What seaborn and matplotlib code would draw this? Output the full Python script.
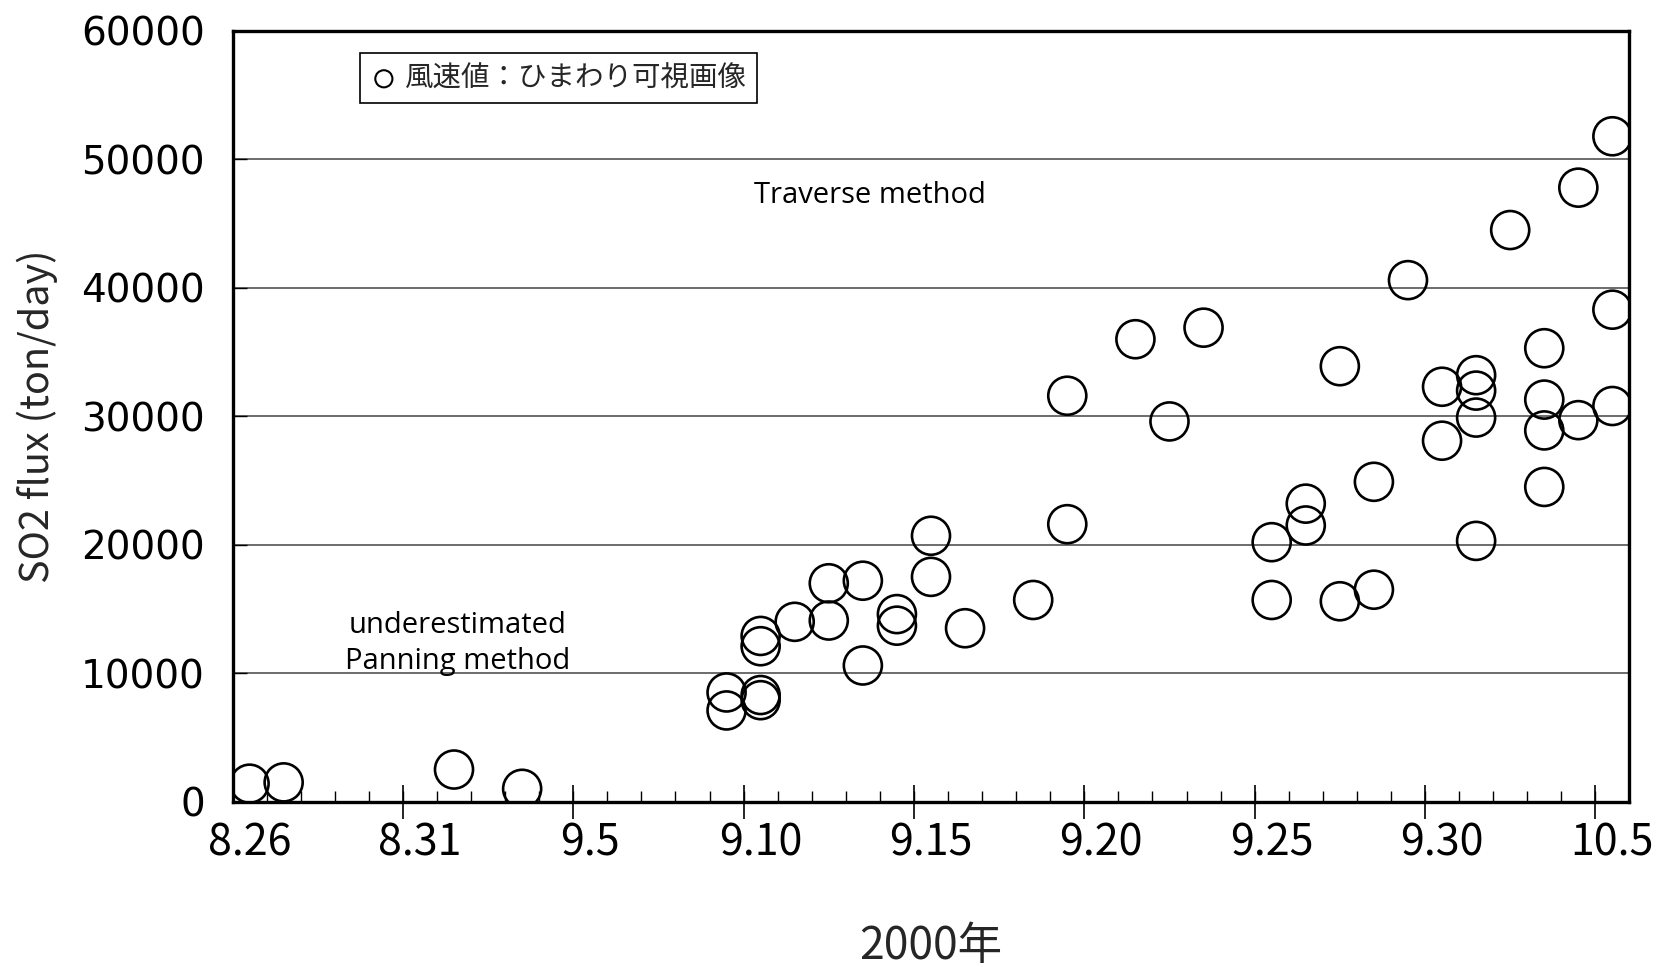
"""SO2 flux time series (2000), hollow circles, Excel-like category axis."""
import numpy as np
import pandas as pd
import matplotlib
matplotlib.use("Agg")
import matplotlib.pyplot as plt
import seaborn as sns

# category axis: every day from 8.26 to 10.5
date_axis = [f"{d.month}.{d.day}" for d in pd.date_range("2000-08-26", "2000-10-05")]
label_every = 5

obs_date = [
    "8.26", "8.27", "9.1", "9.3",
    "9.9", "9.9",
    "9.10", "9.10", "9.10", "9.10",
    "9.11", "9.12", "9.12", "9.13", "9.13", "9.14", "9.14",
    "9.15", "9.15", "9.16", "9.18", "9.19", "9.19",
    "9.21", "9.22", "9.23",
    "9.25", "9.25", "9.26", "9.26", "9.27", "9.27", "9.28", "9.28",
    "9.29", "9.30", "9.30",
    "10.1", "10.1", "10.1", "10.1",
    "10.2",
    "10.3", "10.3", "10.3", "10.3",
    "10.4", "10.4",
    "10.5", "10.5", "10.5",
]
so2_flux = [
    1400, 1500, 2500, 1000,
    7100, 8500,
    7900, 8300, 12100, 12900,
    14000, 17000, 14100, 17200, 10600, 14600, 13700,
    20700, 17500, 13500, 15700, 31600, 21600,
    36000, 29600, 36900,
    20200, 15700, 23200, 21500, 33900, 15600, 24900, 16500,
    40600, 32300, 28100,
    33200, 32000, 29900, 20300,
    44500,
    35300, 31300, 28900, 24500,
    47800, 29700,
    51800, 38300, 30800,
]
y_ticks = [0, 10000, 20000, 30000, 40000, 50000, 60000]

legend_label = "風速値：ひまわり可視画像"
ylabel = "SO2 flux (ton/day)"
xlabel = "2000年"

df = pd.DataFrame({"date": obs_date, "flux": so2_flux})
df["pos"] = df["date"].map({d: i for i, d in enumerate(date_axis)})

sns.set_theme(style="white")
plt.rcParams["font.family"] = ["DejaVu Sans", "Noto Sans CJK JP"]
NARROW = ["Noto Sans CJK JP", "DejaVu Sans"]

fig, ax = plt.subplots(figsize=(16.61, 9.67), dpi=100)
fig.subplots_adjust(left=0.140, right=0.981, top=0.968, bottom=0.171)

sns.scatterplot(
    data=df, x="pos", y="flux", ax=ax, marker="o", s=750,
    facecolor="none", edgecolor="black", linewidth=1.9, label=legend_label,
    zorder=3,
)

ax.set_xlim(-0.5, len(date_axis) - 0.5)
ax.set_ylim(y_ticks[0], y_ticks[-1])

# grid lines only horizontal
ax.set_yticks(y_ticks)
ax.yaxis.grid(True, color="#444444", linewidth=1.1)
ax.xaxis.grid(False)

# labels on the categories, tick marks between them
lab_pos = list(range(0, len(date_axis), label_every))
ax.set_xticks(lab_pos)
ax.set_xticklabels([date_axis[i] for i in lab_pos], family=NARROW, fontsize=31)
ax.tick_params(axis="x", which="major", length=0, pad=14, colors="black")
ax.set_xticks(np.arange(-0.5, len(date_axis), 1), minor=True)
ax.tick_params(axis="x", which="minor", direction="in", length=8, width=1,
               color="black", bottom=True)
sec = ax.secondary_xaxis("bottom")
sec.set_xticks(np.arange(label_every - 0.5, len(date_axis) - 1, label_every))
sec.tick_params(direction="inout", length=24, width=1.2, labelbottom=False,
                color="black")
sec.spines["bottom"].set_visible(False)

ax.set_yticklabels([str(v) for v in y_ticks], fontsize=28)
ax.tick_params(axis="y", direction="in", length=10, width=1, pad=20,
               left=True, colors="black")

for sp in ax.spines.values():
    sp.set_visible(True)
    sp.set_color("black")
    sp.set_linewidth(2.4)

ax.set_ylabel(ylabel, family=NARROW, fontsize=28.5)
ax.yaxis.label.set_va("center")
ax.yaxis.set_label_coords(-0.140, 0.5)
ax.set_xlabel(xlabel, family=NARROW, fontsize=32)
ax.xaxis.set_label_coords(0.5, -0.187)
ax.xaxis.label.set_va("center")

ax.text(18.2, 47200, "Traverse method", family=["Open Sans"], fontsize=21,
        ha="center", va="center", color="black")
ax.text(6.1, 13700, "underestimated", family=["Open Sans"], fontsize=21,
        ha="center", va="center", color="black")
ax.text(6.1, 10900, "Panning method", family=["Open Sans"], fontsize=21,
        ha="center", va="center", color="black")

leg = ax.legend(
    loc="upper left", bbox_to_anchor=(0.091, 0.971), borderaxespad=0,
    markerscale=0.45, prop={"family": ["Noto Sans CJK JP"], "size": 20.5},
    frameon=True, fancybox=False, framealpha=1, edgecolor="black",
    handletextpad=0.25, handlelength=1.0, borderpad=0.35,
)
leg.get_frame().set_linewidth(1.2)
for h in leg.legend_handles:
    h.set_linewidth(1.5)

fig.savefig("out.png", dpi=100, facecolor="white")
